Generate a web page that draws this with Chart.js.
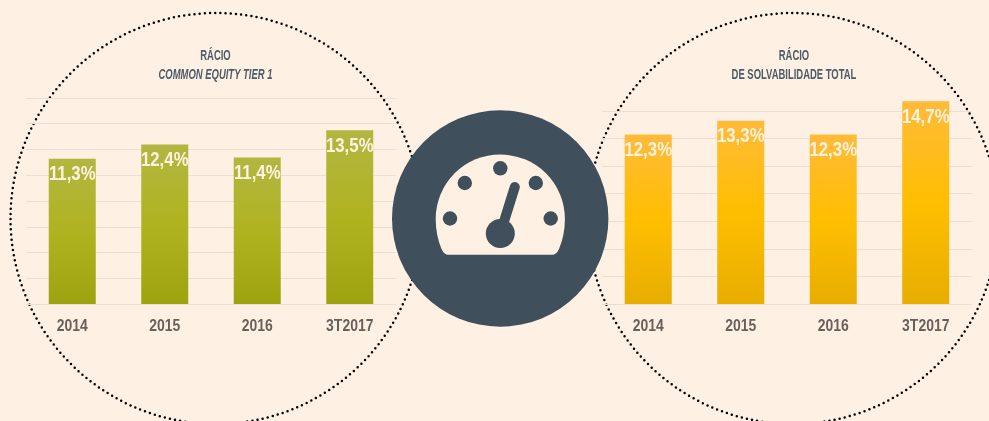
<!DOCTYPE html>
<html><head><meta charset="utf-8">
<style>
html,body{margin:0;padding:0;background:#fef0e2;width:989px;height:421px;overflow:hidden}
#stage{position:relative;width:989px;height:421px;overflow:hidden}
svg{position:absolute;left:0;top:0}
.c{position:absolute;top:40px;height:301px}
#left{left:26px;width:379px}
#right{left:602px;width:384px}
</style>
<script src="https://cdn.jsdelivr.net/npm/chart.js@4"></script>
</head><body>
<div id="stage">
<svg width="989" height="421">
<circle cx="216" cy="218.5" r="205.5" fill="none" stroke="#000" stroke-width="2.5" stroke-linecap="round" stroke-dasharray="0 5.2"/>
<circle cx="793" cy="218.5" r="205.5" fill="none" stroke="#000" stroke-width="2.5" stroke-linecap="round" stroke-dasharray="0 5.2"/>
</svg>
<div class="c" id="left"><canvas id="c1" width="379" height="301"></canvas></div>
<div class="c" id="right"><canvas id="c2" width="384" height="301"></canvas></div>
<svg width="989" height="421">
<circle cx="500.2" cy="218.5" r="108.2" fill="#3f4f5c"/>
<path d="M448.5 254.8 Q444 254.8 441.5 249 Q435.7 235 435.7 219 A64.6 64.6 0 0 1 564.9 219 Q564.9 235 559 249 Q556.5 254.8 552 254.8 Z" fill="#fef0e2"/>
<g fill="#3f4f5c">
<circle cx="500.3" cy="168.3" r="7.2"/><circle cx="464.8" cy="183" r="7.2"/><circle cx="535.8" cy="183" r="7.2"/>
<circle cx="450" cy="218.5" r="7.2"/><circle cx="550.7" cy="218.5" r="7.2"/>
<circle cx="500.3" cy="233.5" r="14.5"/>
</g>
<line x1="500.3" y1="233.5" x2="514.8" y2="187" stroke="#3f4f5c" stroke-width="10" stroke-linecap="round"/>
</svg>
</div>
<script>
const categories = ['2014', '2015', '2016', '3T2017'];
const commonEquityTier1 = [11.3, 12.4, 11.4, 13.5];
const solvabilidadeTotal = [12.3, 13.3, 12.3, 14.7];
const leftTitle = 'RÁCIO';
const leftSubtitle = 'COMMON EQUITY TIER 1';
const rightTitle = 'RÁCIO';
const rightSubtitle = 'DE SOLVABILIDADE TOTAL';
const leftStops = ['#b3b640', '#afb320', '#9da30e'];
const rightStops = ['#ffbb3a', '#ffbe00', '#e7ad00'];
const FONT = '"Liberation Sans",Arial,sans-serif';
const SQUEEZE = { 15: 0.63, 17: 0.82, 20: 0.84 };

// No condensed face is installed: narrow the library's own text horizontally about its anchor.
function condenseText(ctx) {
  const fill = ctx.fillText.bind(ctx);
  ctx.fillText = function (t, x, y, w) {
    const m = /(\d+)px/.exec(ctx.font);
    const sx = (m && SQUEEZE[m[1]]) || 1;
    ctx.save();
    ctx.translate(x, y);
    ctx.scale(sx, 1);
    if (w === undefined) fill(t, 0, 0); else fill(t, 0, 0, w);
    ctx.restore();
  };
}

const valueLabels = {
  id: 'valueLabels',
  afterDatasetsDraw(chart) {
    const { ctx } = chart;
    const meta = chart.getDatasetMeta(0);
    ctx.save();
    ctx.font = 'bold 20px ' + FONT;
    ctx.fillStyle = '#fdf1e1';
    ctx.textAlign = 'center';
    ctx.textBaseline = 'middle';
    meta.data.forEach((bar, i) => {
      const v = chart.data.datasets[0].data[i];
      ctx.fillText(v.toFixed(1).replace('.', ',') + '%', bar.x, bar.y + 16);
    });
    ctx.restore();
  }
};

function makeChart(id, values, stops, title, subtitle, subItalic, yMax, subBottom, rightGap) {
  const canvas = document.getElementById(id);
  condenseText(canvas.getContext('2d'));
  return new Chart(canvas, {
    type: 'bar',
    plugins: [valueLabels],
    data: {
      labels: categories,
      datasets: [{
        data: values,
        clip: false,
        barPercentage: 0.508,
        categoryPercentage: 1,
        backgroundColor(c) {
          const ch = c.chart;
          if (!ch.chartArea || c.dataIndex === undefined) return stops[1];
          const y = ch.scales.y;
          const g = ch.ctx.createLinearGradient(0, y.getPixelForValue(values[c.dataIndex]), 0, y.getPixelForValue(0));
          g.addColorStop(0, stops[0]);
          g.addColorStop(0.5, stops[1]);
          g.addColorStop(1, stops[2]);
          return g;
        }
      }]
    },
    options: {
      responsive: false,
      animation: false,
      layout: { padding: 0 },
      plugins: {
        legend: { display: false },
        tooltip: { enabled: false },
        title: {
          display: true, text: title, color: '#4d5c6a',
          font: { family: FONT, size: 15, weight: 'bold' },
          padding: { top: 7, bottom: 1 }
        },
        subtitle: {
          display: true, text: subtitle, color: '#4d5c6a',
          font: { family: FONT, size: 15, weight: 'bold', style: subItalic ? 'italic' : 'normal' },
          padding: { top: 0, bottom: subBottom }
        }
      },
      scales: {
        x: {
          grid: { display: false },
          border: { display: false },
          ticks: { color: '#68615b', font: { family: FONT, size: 17, weight: 'bold' }, padding: 4, maxRotation: 0, autoSkip: false }
        },
        y: {
          display: true, position: 'right', min: 0, max: yMax,
          afterFit(s) { s.width = rightGap; },
          ticks: { display: false, stepSize: 2 },
          border: { display: false },
          grid: { color: '#ecdfd1', lineWidth: 1, drawTicks: false }
        }
      }
    }
  });
}
makeChart('c1', commonEquityTier1, leftStops, leftTitle, leftSubtitle, true, 16, 14, 9);
makeChart('c2', solvabilidadeTotal, rightStops, rightTitle, rightSubtitle, false, 14, 27, 14);
</script>
</body></html>
